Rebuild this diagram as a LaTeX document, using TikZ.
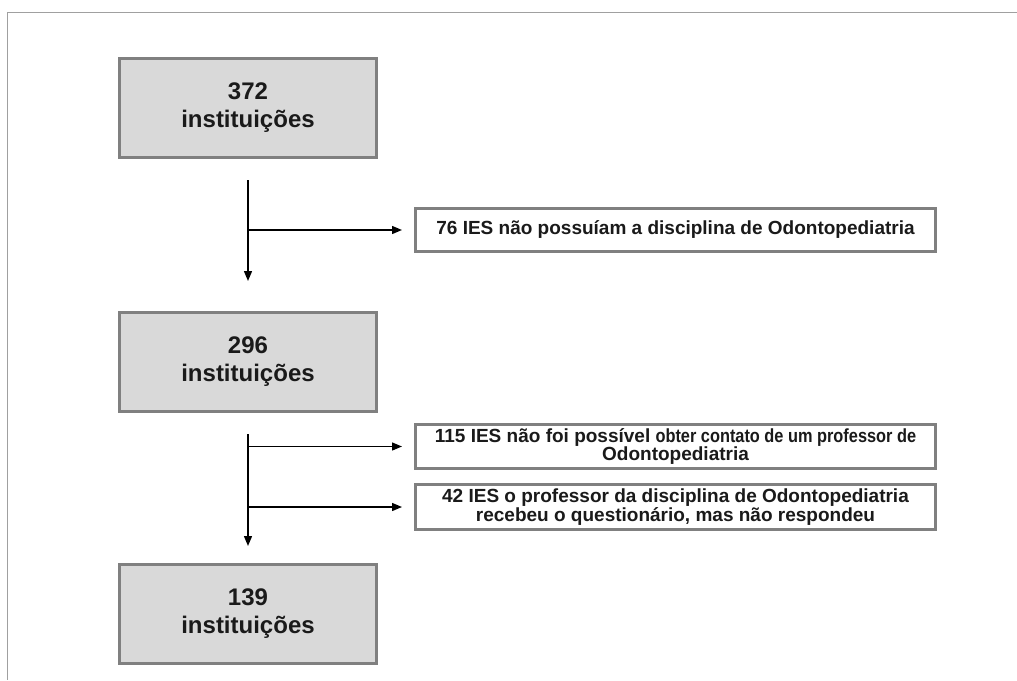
\documentclass[tikz,border=0pt]{standalone}
\usepackage{fontspec}
\usepackage{graphicx}
\setmainfont{Liberation Sans}
\usetikzlibrary{arrows.meta}
\definecolor{boxfill}{HTML}{D9D9D9}
\definecolor{boxline}{HTML}{808080}
\definecolor{frameline}{HTML}{A0A0A0}
\definecolor{txt}{HTML}{1A1A1A}
\tikzset{
  bigbox/.style={draw=boxline, line width=3pt, fill=boxfill, minimum width=257pt, minimum height=99pt, inner sep=0pt, align=center, text=txt, font=\fontsize{24}{28}\selectfont\bfseries},
  smallbox/.style={draw=boxline, line width=3pt, fill=white, minimum width=520pt, inner sep=0pt, align=center, text=txt, font=\fontsize{19}{18.5}\selectfont\bfseries},
  arr/.style={line width=1.4pt, -{Triangle[length=10pt,width=8pt]}},
}
\begin{document}
\begin{tikzpicture}[x=1pt,y=-1pt]
\useasboundingbox (0,0) rectangle (1017,680);
\fill[white] (0,0) rectangle (1017,680);
\draw[frameline, line width=1.5pt] (1017,12.5) -- (7.5,12.5) -- (7.5,680);

\node[bigbox] (b1) at (248,108) {372\\instituições};
\node[bigbox] (b2) at (248,361.5) {296\\instituições};
\node[bigbox] (b3) at (248,613.5) {139\\instituições};

\node[smallbox, minimum height=43pt] (e1) at (675.5,230) {76 IES não possuíam a disciplina de Odontopediatria};
\node[smallbox, minimum height=44pt] (e2) at (675.5,446.5) {115 IES não foi possível \scalebox{0.86}[1]{obter contato de um professor de}\\Odontopediatria};
\node[smallbox, minimum height=45pt] (e3) at (675.5,507) {42 IES o professor da disciplina de Odontopediatria\\recebeu o questionário, mas não respondeu};

\coordinate (v1a) at (248,180);
\coordinate (v1b) at (248,281);
\coordinate (v2a) at (248,434);
\coordinate (v2b) at (248,546);

\draw[arr] (v1a) -- (v1b);
\draw[arr] (v1a |- e1.west) -- ([xshift=-12pt]e1.west);
\draw[arr] (v2a) -- (v2b);
\draw[arr] (v2a |- e2.west) -- ([xshift=-12pt]e2.west);
\draw[arr] (v2a |- e3.west) -- ([xshift=-12pt]e3.west);
\end{tikzpicture}
\end{document}
